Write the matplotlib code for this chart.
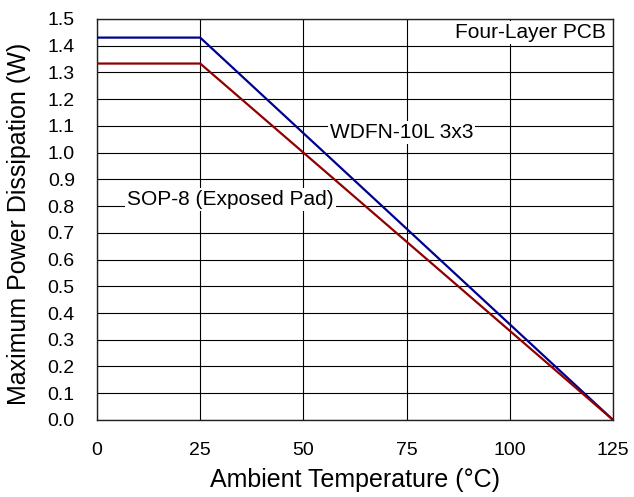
import matplotlib
matplotlib.use('Agg')
import matplotlib.pyplot as plt

# derating curves, ambient temperature in degC vs max power in W
temp = [0, 25, 125]
wdfn_power = [1.43, 1.43, 0.0]
sop_power = [1.333, 1.333, 0.0]

x_ticks = [0, 25, 50, 75, 100, 125]
y_ticks = [i / 10 for i in range(16)]

plt.rcParams['font.family'] = ['Liberation Sans', 'DejaVu Sans']

fig = plt.figure(figsize=(6.34, 4.97), dpi=100)
ax = fig.add_axes([0.153, 0.155, 0.814, 0.807])

ax.plot(temp, wdfn_power, color='#000090', lw=1.6, zorder=3)
ax.plot(temp, sop_power, color='#900000', lw=1.6, zorder=3)

ax.set_xlim(0, 125)
ax.set_ylim(0, 1.5)
ax.set_xticks(x_ticks)
ax.set_yticks(y_ticks)
ax.set_yticklabels(['%.1f' % v for v in y_ticks])
ax.grid(True, color='black', lw=0.8)
ax.tick_params(axis='both', length=0, labelsize=14)
ax.tick_params(axis='x', pad=16)
ax.tick_params(axis='y', pad=16)
for s in ax.spines.values():
    s.set_color('#202020')
    s.set_linewidth(1.0)

ax.set_xlabel('Ambient Temperature (\u00b0C)', fontsize=18)
ax.set_ylabel('Maximum Power Dissipation (W)', fontsize=18)
ax.xaxis.set_label_coords(0.5, -0.12)
ax.yaxis.set_label_coords(-0.128, 0.49)

box = dict(facecolor='white', edgecolor='none', pad=1.5)
ax.text(123.3, 1.448, 'Four-Layer PCB', ha='right', va='center', fontsize=15, bbox=box, zorder=4)
ax.text(56.4, 1.074, 'WDFN-10L 3x3', ha='left', va='center', fontsize=15, bbox=box, zorder=4)
ax.text(7.3, 0.823, 'SOP-8 (Exposed Pad)', ha='left', va='center', fontsize=15, bbox=box, zorder=4)

fig.savefig('out.png', dpi=100)
